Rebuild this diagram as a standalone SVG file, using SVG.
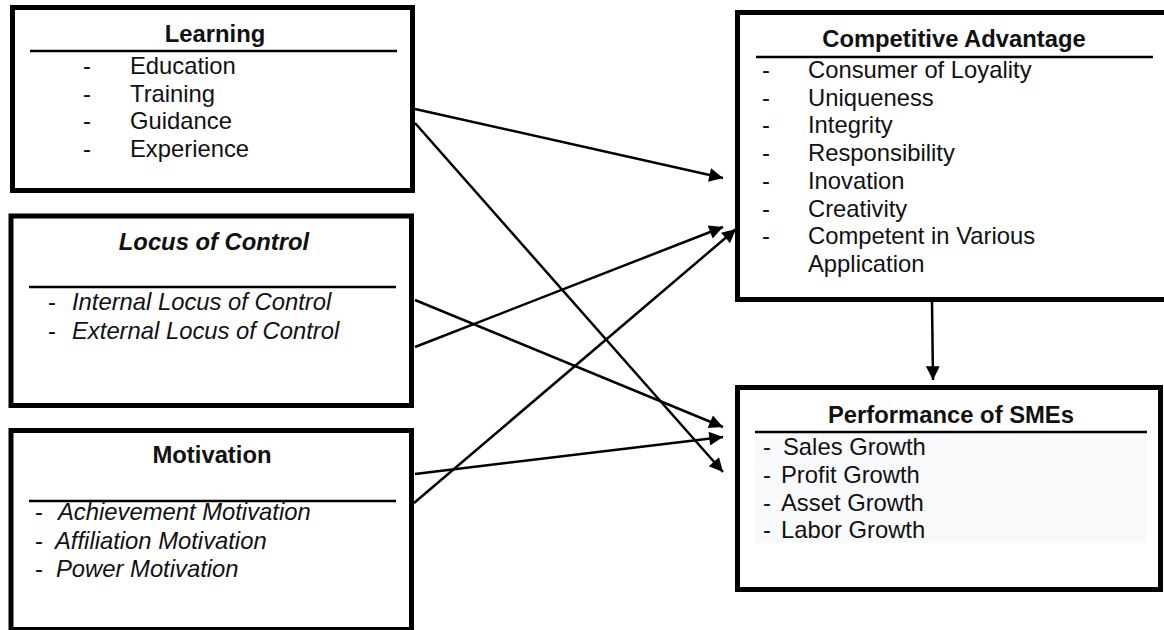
<svg xmlns="http://www.w3.org/2000/svg" width="1164" height="630" viewBox="0 0 1164 630">
  <style>
    .box { fill: #ffffff; stroke: #000000; stroke-width: 5; }
    .sep { stroke: #000000; stroke-width: 2.5; }
    .t { font-family: "Liberation Sans", Arial, sans-serif; font-size: 23.8px; fill: #111111; }
    .title { font-weight: bold; text-anchor: middle; }
    .it { font-style: italic; }
    .conn { stroke: #000000; stroke-width: 2.5; fill: none; marker-end: url(#arrow); }
  </style>
  <defs>
    <marker id="arrow" viewBox="0 0 10 10" refX="10" refY="5" markerWidth="6.5" markerHeight="5.5" markerUnits="strokeWidth" orient="auto">
      <path d="M0,0 L10,5 L0,10 z" fill="#000000"/>
    </marker>
  </defs>
  <rect width="1164" height="630" fill="#ffffff"/>

  <g id="learning">
    <rect class="box" x="12.5" y="7.5" width="400" height="183"/>
    <text class="t title" x="215" y="42">Learning</text>
    <line class="sep" x1="30" y1="51" x2="397" y2="51"/>
    <text class="t" x="83" y="74">-</text><text class="t" x="130" y="74">Education</text>
    <text class="t" x="83" y="101.5">-</text><text class="t" x="130" y="101.5">Training</text>
    <text class="t" x="83" y="129">-</text><text class="t" x="130" y="129">Guidance</text>
    <text class="t" x="83" y="156.5">-</text><text class="t" x="130" y="156.5">Experience</text>
  </g>

  <g id="locus">
    <rect class="box" x="11" y="216" width="400.5" height="189.5"/>
    <text class="t title it" x="214" y="250">Locus of Control</text>
    <line class="sep" x1="29" y1="287" x2="396" y2="287"/>
    <text class="t" x="48" y="310">-</text><text class="t it" x="72" y="310">Internal Locus of Control</text>
    <text class="t" x="48" y="339">-</text><text class="t it" x="72" y="339">External Locus of Control</text>
  </g>

  <g id="motivation">
    <rect class="box" x="11" y="430.5" width="400.5" height="199"/>
    <text class="t title" x="212" y="463">Motivation</text>
    <line class="sep" x1="29" y1="501" x2="396" y2="501"/>
    <text class="t" x="35" y="520">-</text><text class="t it" x="58" y="520">Achievement Motivation</text>
    <text class="t" x="35" y="549">-</text><text class="t it" x="55" y="549">Affiliation Motivation</text>
    <text class="t" x="35" y="577">-</text><text class="t it" x="56" y="577">Power Motivation</text>
  </g>

  <g id="competitive-advantage">
    <rect class="box" x="737.5" y="12.5" width="440" height="287"/>
    <text class="t title" x="954" y="47">Competitive Advantage</text>
    <line class="sep" x1="756" y1="57" x2="1153" y2="57"/>
    <text class="t" x="762" y="78">-</text><text class="t" x="808" y="78">Consumer of Loyality</text>
    <text class="t" x="762" y="106">-</text><text class="t" x="808" y="106">Uniqueness</text>
    <text class="t" x="762" y="133">-</text><text class="t" x="808" y="133">Integrity</text>
    <text class="t" x="762" y="161">-</text><text class="t" x="808" y="161">Responsibility</text>
    <text class="t" x="762" y="189">-</text><text class="t" x="808" y="189">Inovation</text>
    <text class="t" x="762" y="217">-</text><text class="t" x="808" y="217">Creativity</text>
    <text class="t" x="762" y="244">-</text><text class="t" x="808" y="244">Competent in Various</text>
    <text class="t" x="808" y="272">Application</text>
  </g>

  <g id="performance">
    <rect class="box" x="737.5" y="387.5" width="423" height="202"/>
    <text class="t title" x="951" y="423">Performance of SMEs</text>
    <rect x="755" y="433" width="392" height="110" fill="#f8f9fa"/>
    <line class="sep" x1="755" y1="432" x2="1147" y2="432"/>
    <text class="t" x="763" y="455">-</text><text class="t" x="783" y="455">Sales Growth</text>
    <text class="t" x="763" y="483">-</text><text class="t" x="781" y="483">Profit Growth</text>
    <text class="t" x="763" y="511">-</text><text class="t" x="781" y="511">Asset Growth</text>
    <text class="t" x="763" y="538">-</text><text class="t" x="781" y="538">Labor Growth</text>
  </g>

  <g id="connectors">
    <line class="conn" x1="415" y1="109" x2="723" y2="178"/>
    <line class="conn" x1="415" y1="123" x2="723" y2="472"/>
    <line class="conn" x1="415" y1="347" x2="723" y2="227"/>
    <line class="conn" x1="415" y1="300" x2="723" y2="427"/>
    <line class="conn" x1="415" y1="474" x2="723" y2="437"/>
    <line class="conn" x1="414" y1="503" x2="736" y2="229"/>
    <line class="conn" x1="932" y1="302" x2="933" y2="380"/>
  </g>
</svg>
